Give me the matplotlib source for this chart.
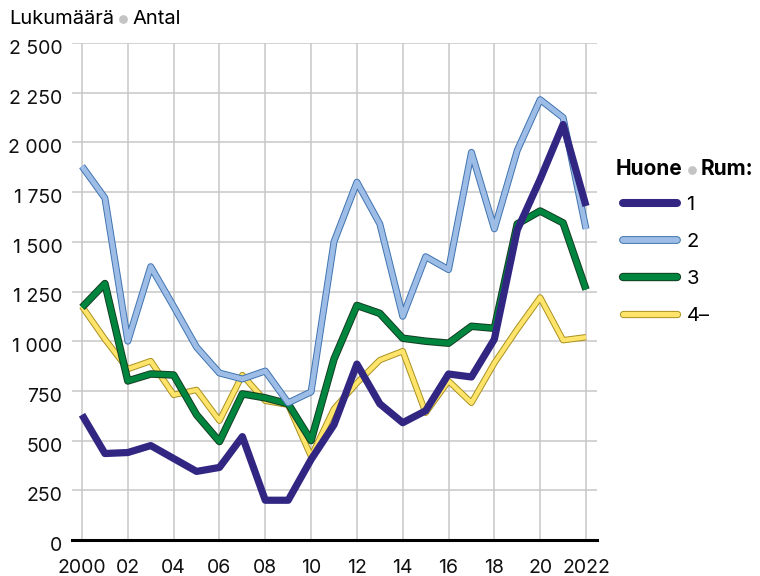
import matplotlib
matplotlib.use('Agg')
import matplotlib.pyplot as plt
import matplotlib.patheffects as pe
import matplotlib.transforms as mtrans
from matplotlib.lines import Line2D

plt.rcParams['font.family'] = ['Inter', 'DejaVu Sans']

# Data
years = list(range(2000, 2023))
huone1 = [630, 435, 440, 475, 410, 345, 365, 520, 200, 200, 405, 580, 885, 685, 590, 650,
          835, 820, 1010, 1560, 1815, 2090, 1680]
huone2 = [1880, 1720, 1000, 1375, 1175, 970, 840, 810, 850, 690, 745, 1500, 1800, 1590, 1125, 1425,
          1360, 1950, 1565, 1960, 2215, 2125, 1565]
huone3 = [1170, 1290, 800, 835, 830, 630, 495, 735, 715, 685, 500, 910, 1180, 1140, 1015, 1000,
          990, 1075, 1065, 1590, 1655, 1595, 1260]
huone4 = [1175, 1010, 860, 900, 730, 755, 600, 830, 700, 680, 420, 660, 790, 905, 950, 640,
          800, 690, 890, 1060, 1220, 1005, 1020]

series_labels = ['1', '2', '3', '4–']
y_ticks = [0, 250, 500, 750, 1000, 1250, 1500, 1750, 2000, 2250, 2500]
x_ticks = list(range(2000, 2023, 2))
x_ticklabels = ['2000', '02', '04', '06', '08', '10', '12', '14', '16', '18', '20', '2022']

W, H = 760, 576
fig = plt.figure(figsize=(W / 100, H / 100), dpi=100)
ax = fig.add_axes([72 / W, 1 - 540 / H, (597 - 72) / W, 497 / H])

ax.set_xlim(2000 - 10 / 22.9, 2022 + 11 / 22.9)
ax.set_ylim(0, 2500)

for s in ax.spines.values():
    s.set_visible(False)

ax.set_yticks(y_ticks)
ax.set_yticklabels([f'{v:,}'.replace(',', ' ') for v in y_ticks])
ax.set_xticks(x_ticks)
ax.set_xticklabels(x_ticklabels)
ax.tick_params(axis='both', length=0, labelsize=14, colors='#111111')
ax.tick_params(axis='y', pad=7)
ax.tick_params(axis='x', pad=14)
# y labels sit a little below their gridline in the original
shift = mtrans.ScaledTranslation(0, -4 / 100, fig.dpi_scale_trans)
for lbl in ax.get_yticklabels():
    lbl.set_transform(lbl.get_transform() + shift)
ax.grid(True, color='#c8c8c8', linewidth=1.1)
ax.set_axisbelow(True)
ax.axhline(0, color='black', linewidth=2.2, zorder=2, clip_on=False)

styles = [
    # values, colour, edge, lw, edge lw, zorder, label
    (huone4, '#ffe46b', '#a8901f', 3.2, 4.6, 3, '4–'),
    (huone3, '#00853e', '#143d22', 4.0, 5.4, 4, '3'),
    (huone2, '#9dbde6', '#3f73b0', 3.6, 5.0, 5, '2'),
    (huone1, '#312783', None, 5.2, None, 6, '1'),
]

handles = {}
for vals, col, edge, lw, elw, z, lab in styles:
    effects = [pe.Stroke(linewidth=elw, foreground=edge), pe.Normal()] if edge else None
    line, = ax.plot(years, vals, color=col, linewidth=lw, zorder=z, clip_on=False,
                    solid_joinstyle='round', solid_capstyle='butt', label=lab)
    if effects:
        line.set_path_effects(effects)
    h = Line2D([], [], color=col, linewidth=lw + 0.6, solid_capstyle='round')
    if effects:
        h.set_path_effects([pe.Stroke(linewidth=elw + 0.6, foreground=edge), pe.Normal()])
    handles[lab] = h

leg = fig.legend([handles[l] for l in series_labels], series_labels,
                 loc='upper left', bbox_to_anchor=(623 / W, 1 - 196 / H),
                 frameon=False, fontsize=14.5, handlelength=2.7, handletextpad=0.45,
                 labelspacing=0.93, borderpad=0, borderaxespad=0)

renderer = fig.canvas.get_renderer()


def dot_title(x, base, left, right, weight='normal', size=14.5):
    """text ● text, placed in pixels from the top-left corner"""
    t1 = fig.text(x / W, 1 - base / H, left, fontsize=size, fontweight=weight,
                  va='baseline', ha='left')
    bb = t1.get_window_extent(renderer)
    dot_x = bb.x1 + 5 + 4
    fig.add_artist(Line2D([dot_x / W], [1 - (base - 5) / H], marker='o', markersize=6.3,
                          color='#c4c4c4', markeredgewidth=0, transform=fig.transFigure))
    fig.text((dot_x + 4 + 5) / W, 1 - base / H, right, fontsize=size, fontweight=weight,
             va='baseline', ha='left')


dot_title(9, 24, 'Lukumäärä', 'Antal')
dot_title(616, 175, 'Huone', 'Rum:', weight='bold', size=15)

fig.savefig('out.png', dpi=100)
